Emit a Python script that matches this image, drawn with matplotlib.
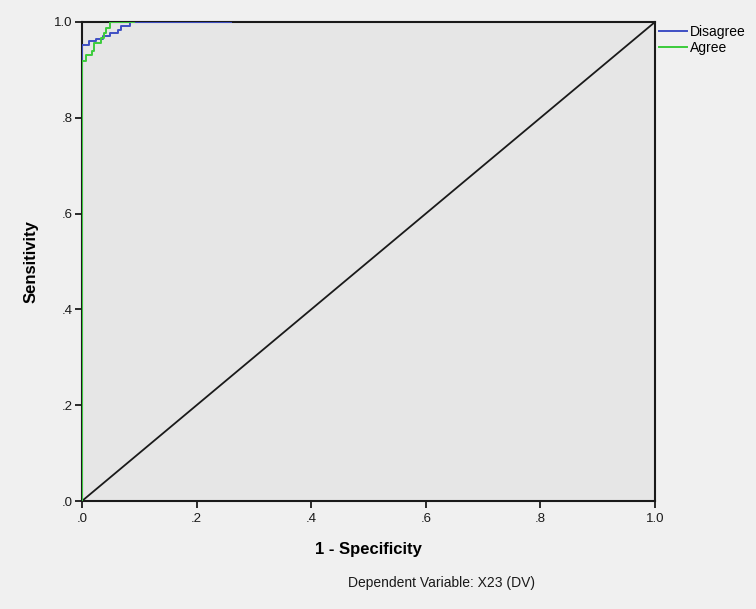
import matplotlib
matplotlib.use("Agg")
import matplotlib.pyplot as plt

plt.rcParams['font.family'] = ['Liberation Sans', 'DejaVu Sans']

# ROC curve data (1 - specificity, sensitivity)
disagree_fpr = [0.0, 0.0, 0.0, 0.013, 0.013, 0.024, 0.024, 0.036, 0.036, 0.048, 0.048,
                0.062, 0.062, 0.068, 0.068, 0.083, 0.083, 0.26]
disagree_tpr = [0.0, 0.921, 0.953, 0.953, 0.960, 0.960, 0.965, 0.965, 0.971, 0.971, 0.978,
                0.978, 0.983, 0.983, 0.992, 0.992, 1.0, 1.0]

agree_fpr = [0.0, 0.0, 0.0, 0.007, 0.007, 0.018, 0.018, 0.021, 0.021, 0.033, 0.033,
             0.039, 0.039, 0.042, 0.042, 0.048, 0.048, 0.09]
agree_tpr = [0.0, 0.743, 0.918, 0.918, 0.932, 0.932, 0.939, 0.939, 0.957, 0.957, 0.967,
             0.967, 0.978, 0.978, 0.988, 0.988, 1.0, 1.0]

ref_x = [0.0, 1.0]
ref_y = [0.0, 1.0]

tick_vals = [0.0, 0.2, 0.4, 0.6, 0.8, 1.0]
tick_labels = ['.0', '.2', '.4', '.6', '.8', '1.0']

fig = plt.figure(figsize=(7.56, 6.09), dpi=100, facecolor='#f0f0f0')
ax = fig.add_axes([82/756, 1 - 501/609, (655-82)/756, (501-22)/609])
ax.set_facecolor('#e6e6e6')

ax.plot(ref_x, ref_y, color='#1a1a1a', lw=1.3, zorder=2)
ax.plot(disagree_fpr, disagree_tpr, color='#3f4fc4', lw=1.4, label='Disagree', zorder=3)
ax.plot(agree_fpr, agree_tpr, color='#3ccc3c', lw=1.4, label='Agree', zorder=3)

ax.set_xlim(0, 1)
ax.set_ylim(0, 1)
ax.set_xticks(tick_vals)
ax.set_xticklabels(tick_labels)
ax.set_yticks(tick_vals)
ax.set_yticklabels(tick_labels)
ax.tick_params(direction='out', length=5, width=1.3, colors='#1a1a1a', labelsize=9.5, pad=2)
ax.tick_params(axis='x', pad=4)
for s in ax.spines.values():
    s.set_color('#1a1a1a')
    s.set_linewidth(1.5)

ax.set_xlabel('1 - Specificity', fontsize=12, fontweight='bold', labelpad=12)
ax.set_ylabel('Sensitivity', fontsize=12, fontweight='bold', labelpad=11)

leg = ax.legend(loc='upper left', bbox_to_anchor=(0.995, 1.008), frameon=False,
                fontsize=10, handlelength=2.0, handletextpad=0.25, borderaxespad=0.1,
                labelspacing=0.12)

fig.text(442/756, 1 - 583/609, 'Dependent Variable: X23 (DV)', ha='center', va='center',
         fontsize=10, color='#1a1a1a')

fig.savefig('out.png', dpi=100, facecolor=fig.get_facecolor())
